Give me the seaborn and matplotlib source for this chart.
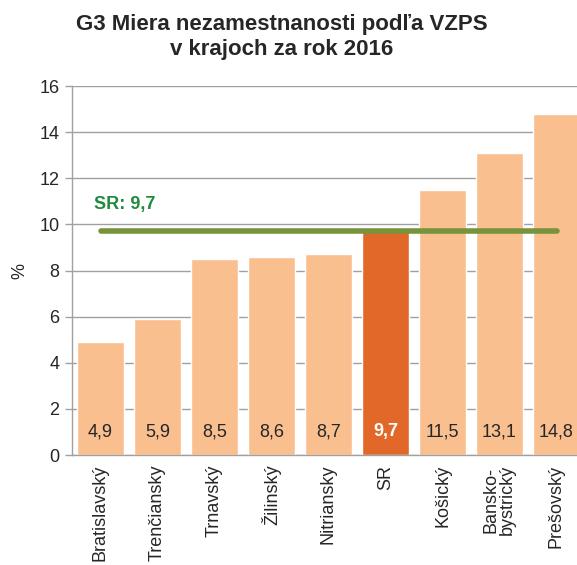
import matplotlib
matplotlib.use('Agg')
import matplotlib.pyplot as plt
import numpy as np
import pandas as pd
import seaborn as sns

# data
regions = ['Bratislavský', 'Trenčiansky', 'Trnavský', 'Žilinský', 'Nitriansky',
           'SR', 'Košický', 'Bansko-\nbystrický', 'Prešovský']
rates = [4.9, 5.9, 8.5, 8.6, 8.7, 9.7, 11.5, 13.1, 14.8]
labels = ['4,9', '5,9', '8,5', '8,6', '8,7', '9,7', '11,5', '13,1', '14,8']
sr_value = 9.7
y_ticks = [0, 2, 4, 6, 8, 10, 12, 14, 16]

light = '#F9BF8F'
dark = '#E2682A'
grid_col = '#A0A0A0'

sns.set_style('white')
plt.rcParams['font.family'] = ['Liberation Sans', 'DejaVu Sans']

df = pd.DataFrame({'region': regions, 'rate': rates})
colors = [dark if r == 'SR' else light for r in regions]

fig = plt.figure(figsize=(5.77, 5.65), dpi=100)
ax = fig.add_axes([72 / 577, 1 - 455 / 565, 513 / 577, 369 / 565])

sns.barplot(data=df, x='region', y='rate', hue='region', palette=colors,
            legend=False, width=0.82, saturation=1, ax=ax, zorder=2)

ax.set_ylim(0, 16)
ax.set_xlim(-0.5, len(regions) - 0.5)
ax.set_yticks(y_ticks)
ax.set_yticklabels([str(t) for t in y_ticks], fontsize=13)
ax.yaxis.grid(True, color=grid_col, linewidth=1, zorder=0)
ax.set_axisbelow(True)

# category labels at centres, tick marks at the boundaries
ax.set_xticks(np.arange(len(regions)))
ax.set_xticklabels(regions, rotation=90, fontsize=13, linespacing=0.95)
ax.set_xticks(np.arange(len(regions) + 1) - 0.5, minor=True)
ax.tick_params(axis='x', which='major', length=0, pad=7)
ax.tick_params(axis='x', which='minor', length=5, color=grid_col, width=1)
ax.tick_params(axis='y', length=5, color=grid_col, width=1, left=True, pad=4)

ax.set_xlabel('')
ax.set_ylabel('%', fontsize=13, labelpad=8)

for s in ['top', 'right']:
    ax.spines[s].set_visible(False)
for s in ['left', 'bottom']:
    ax.spines[s].set_color(grid_col)
    ax.spines[s].set_linewidth(1)

# value labels at the bottom of the bars
for i, (r, lab) in enumerate(zip(regions, labels)):
    if r == 'SR':
        ax.text(i, 1.0, lab, ha='center', va='center', fontsize=13,
                color='white', fontweight='bold', zorder=5)
    else:
        ax.text(i, 1.0, lab, ha='center', va='center', fontsize=13,
                color='#262626', zorder=5)

# SR average line
ax.plot([0, len(regions) - 1], [sr_value, sr_value], color='#77933C',
        linewidth=4, solid_capstyle='round', zorder=4)
ax.text(-0.12, 10.85, 'SR: 9,7', color='#1E8B3E', fontsize=13,
        fontweight='bold', ha='left', va='center', zorder=5)

fig.text(282 / 577, 1 - 37 / 565, 'G3 Miera nezamestnanosti podľa VZPS\nv krajoch za rok 2016',
         ha='center', va='center', fontsize=16, fontweight='bold', linespacing=1.25)

fig.savefig('out.png', dpi=100)
